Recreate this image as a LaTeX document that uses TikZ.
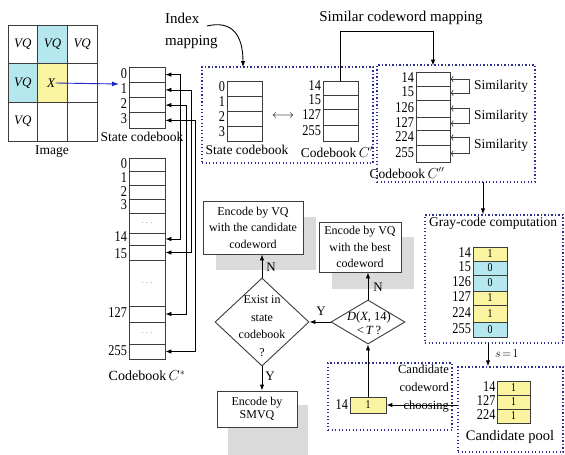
\documentclass[tikz,border=0pt]{standalone}
\usepackage{fontspec}
\setmainfont{Liberation Serif}
\newfontfamily\numf{Liberation Serif}[FakeStretch=0.82]
\usetikzlibrary{arrows.meta,calc,shapes.geometric}
\definecolor{cyanf}{RGB}{180,232,238}
\definecolor{yelf}{RGB}{250,244,160}
\definecolor{dotc}{RGB}{45,45,150}
\definecolor{shad}{RGB}{218,218,218}
\definecolor{ln}{RGB}{60,60,60}
\newcommand\mydots{{\color{black!40}$\cdots$}}
\tikzset{
  fsl/.style 2 args={font=\fontsize{#1}{#2}\selectfont},
  num/.style={font=\fontsize{15}{15}\numf, inner sep=0pt, anchor=east},
  row/.style={draw=ln, line width=0.8pt, inner sep=0pt, minimum width=36pt},
  thk/.style={draw=ln, line width=1.7pt},
  imgcell/.style={draw=ln, line width=0.8pt, minimum width=29.67pt, minimum height=38.67pt, inner sep=0pt, font=\fontsize{13}{13}\selectfont\itshape},
  dotbox/.style={draw=dotc, line width=1.4pt, dash pattern=on 1.2pt off 2.3pt, inner sep=0pt},
  proc/.style={draw=ln, line width=0.9pt, fill=white, align=center, inner sep=0pt},
  dia/.style={diamond, draw=ln, line width=0.9pt, inner sep=0pt, fill=white},
  arr/.style={-{Latex[length=6pt,width=4.5pt]}, line width=0.9pt, draw=black},
  barr/.style={{Latex[length=6pt,width=4.5pt]}-{Latex[length=6pt,width=4.5pt]}, line width=0.8pt},
  sim/.style={{To[length=3pt]}-{To[length=3pt]}, draw=ln, line width=0.6pt},
  yn/.style={fsl={13}{13}, inner sep=0pt},
}
\begin{document}
\begin{tikzpicture}[x=1pt,y=-1pt]
\path[fill=white] (0,0) rectangle (565,455);
\useasboundingbox (0,0) rectangle (565,455);

% ---------- image grid ----------
\node[imgcell] (g00) at (22.83,44.33) {VQ};
\node[imgcell, fill=cyanf] (g01) at (52.5,44.33) {VQ};
\node[imgcell] (g02) at (82.17,44.33) {VQ};
\node[imgcell, fill=cyanf] (g10) at (22.83,83) {VQ};
\node[imgcell, fill=yelf] (g11) at (52.5,83) {};
\node[imgcell] (g12) at (82.17,83) {};
\node[imgcell] (g20) at (22.83,121.67) {VQ};
\node[imgcell] (g21) at (52.5,121.67) {};
\node[imgcell] (g22) at (82.17,121.67) {};
\node[font=\fontsize{13}{13}\selectfont\itshape, inner sep=0.5pt] (xl) at (51,83) {X};
\node[fsl={13.5}{13.5}] (imglbl) at (52,152) {Image};
\coordinate (tipA) at (119,84);
\draw[-{Latex[length=7pt,width=5pt]}, draw={rgb,255:red,30;green,40;blue,200}, line width=0.9pt] (xl.east) -- (tipA);

% ---------- left state codebook ----------
\foreach \n/\y in {0/74.6, 1/89.9, 2/105.1, 3/120.4}{
  \node[row, minimum height=15.25pt] (s\n) at (147,\y) {};
  \node[num] (ls\n) at ($(s\n.west)+(-1.5,-1.5)$) {\n};
}
\node[fsl={13.5}{13.5}] (sclbl) at (142,137) {State codebook};

% ---------- left codebook ----------
\foreach \n/\y/\h/\o in {0/164.9/13.75/-1, 1/178.6/13.75/-1, 2/192.4/13.75/-1, 3/206.1/13.75/-1, 14/239/12/-2.5, 15/252.5/15/0.8, 127/314/16/-1, 255/351.5/15/-1}{
  \node[row, minimum height=\h pt] (c\n) at (147,\y) {};
  \node[num] (lc\n) at ($(c\n.west)+(-1.5,\o)$) {\n};
}
\foreach \n/\y/\h in {d1/223/20, d2/283/46, d3/333/22}{
  \node[row, minimum height=\h pt] (c\n) at (147,\y) {\mydots};
}
\node[fsl={14}{14}] (cblbl) at (147,376) {Codebook$\,C^{*}$};

\draw[barr] (s0.east) -- ++(15,0) |- (c14.east);
\draw[barr] (s1.east) -- ++(26,0) |- (c15.east);
\draw[barr] (s2.east) -- ++(21,0) |- (c127.east);
\draw[barr] (s3.east) -- ++(30,0) |- (c255.east);

% ---------- index mapping ----------
\node[fsl={15}{22}, align=left, anchor=west, inner sep=0pt] (imap) at (165,31) {Index\\mapping};
\node[dotbox, minimum width=171pt, minimum height=96pt] (mbox) at (287.5,115) {};
\coordinate (ia) at (207,26);
\coordinate (ib) at (243,67);
\draw[arr] (ia) .. controls (232,20) and (243,35) .. (ib);

\foreach \n/\y in {0/88.5, 1/103.5, 2/118.5, 3/133.5}{
  \node[row, minimum width=35pt, minimum height=15pt] (m\n) at (244.5,\y) {};
  \node[num] (lm\n) at ($(m\n.west)+(-1.5,-1.5)$) {\n};
}
\node[fsl={13.5}{13.5}] (mslbl) at (247,150) {State codebook};
\node[fsl={12}{12}] (lr) at (283,116) {$\longleftrightarrow$};

\foreach \n/\y/\h in {14/88/14, 15/102/14, 127/117/16, 255/133/16}{
  \node[row, minimum width=35pt, minimum height=\h pt] (p\n) at (340.5,\y) {};
  \node[num] (lp\n) at ($(p\n.west)+(-1.5,-2)$) {\n};
}
\draw[thk] (p15.south west) -- (p15.south east);
\draw[thk] (p127.south west) -- (p127.south east);
\node[fsl={13.5}{13.5}] (cplbl) at (337,152) {Codebook$\,C'$};

% ---------- similar codeword mapping ----------
\node[fsl={15}{15}] (scm) at (401,18) {Similar codeword mapping};
\node[dotbox, minimum width=158pt, minimum height=117pt] (rbox) at (456,123.5) {};
\foreach \n/\y/\h in {14/79/14, 15/93/14, 126/108.5/17, 127/123.5/13, 224/137.5/15, 255/153.5/17}{
  \node[row, minimum width=34pt, minimum height=\h pt] (q\n) at (433,\y) {};
  \node[num] (lq\n) at ($(q\n.west)+(-1.5,-1)$) {\n};
}
\draw[thk] (q15.south west) -- (q15.south east);
\draw[thk] (q126.south west) -- (q126.south east);
\node[fsl={13.5}{13.5}] (cpplbl) at (407,173) {Codebook$\,C''$};
\draw[arr, shorten >=6pt] (p14.north) -- ++(0,-49) -| (q14.north);

\draw[sim] (q14.east) -- ++(19,0) |- (q15.east);
\draw[sim] (q126.east) -- ++(19,0) |- (q127.east);
\draw[sim] (q224.east) -- ++(19,0) |- (q255.east);
\node[fsl={13.5}{13.5}, anchor=west, inner sep=0pt] (sim1) at (474,86) {Similarity};
\node[fsl={13.5}{13.5}, anchor=west, inner sep=0pt] (sim2) at (474,116) {Similarity};
\node[fsl={13.5}{13.5}, anchor=west, inner sep=0pt] (sim3) at (474,145.5) {Similarity};

% ---------- gray code ----------
\node[dotbox, minimum width=138pt, minimum height=128pt] (gbox) at (494,279) {};
\coordinate (rg) at (483,182);
\draw[arr] (rg) -- (rg |- gbox.north);
\node[fsl={13.5}{13.5}, anchor=west, inner sep=0pt] (gtitle) at (429,223) {Gray-code computation};
\foreach \n/\y/\h/\c/\v in {14/254/14/yelf/1, 15/268/14/cyanf/0, 126/283/16/cyanf/0, 127/298/14/yelf/1, 224/313.5/17/yelf/1, 255/329.5/15/cyanf/0}{
  \node[row, minimum width=34pt, minimum height=\h pt, fill=\c, font=\fontsize{12}{12}\numf] (gc\n) at (490,\y) {\v};
  \node[num] (lg\n) at ($(gc\n.west)+(-1.5,-1)$) {\n};
}
\draw[thk] (gc15.south west) -- (gc15.south east);
\draw[thk] (gc126.south west) -- (gc126.south east);

% ---------- candidate pool ----------
\node[dotbox, minimum width=105pt, minimum height=85pt] (pbox) at (510.5,409.5) {};
\coordinate (gp) at (488,343);
\draw[arr] (gp) -- (gp |- pbox.north);
\node[fsl={12}{12}, anchor=west, inner sep=0pt] (slbl) at (495,354) {$s\!=\!1$};
\foreach \n/\y in {14/388, 127/402, 224/416}{
  \node[row, minimum width=33pt, minimum height=14pt, fill=yelf, font=\fontsize{12}{12}\numf] (cp\n) at (513.5,\y) {1};
  \node[num] (lcp\n) at ($(cp\n.west)+(-1,-1)$) {\n};
}
\draw[thk] (cp127.south west) -- (cp127.south east);
\node[fsl={14.5}{14.5}] (cplab) at (510,437) {Candidate pool};

% ---------- candidate codeword choosing ----------
\node[dotbox, minimum width=124pt, minimum height=67pt] (chbox) at (390,396.5) {};
\node[row, minimum width=36pt, minimum height=16pt, fill=yelf, font=\fontsize{12}{12}\numf] (sel) at (368,405) {1};
\node[num] (lsel) at ($(sel.west)+(-1.5,0)$) {14};
\node[fsl={12.5}{18}, align=right, anchor=east, inner sep=0pt] (chtxt) at (449,389) {Candidate\\codeword\\choosing};
\draw[arr] (pbox.west |- sel.east) -- (sel.east);

% ---------- shadows ----------
\fill[shad] (216,217) rectangle (316,270);
\fill[shad] (332,237) rectangle (414,289);
\fill[shad] (228,405) rectangle (308,455);

% ---------- process boxes ----------
\node[proc, minimum width=100pt, minimum height=53pt, fsl={12}{16.5}] (box1) at (253,227.5) {Encode by VQ\\with the candidate\\codeword};
\node[proc, minimum width=82pt, minimum height=50pt, fsl={12}{16.5}] (best) at (360,247) {Encode by VQ\\with the best\\codeword};
\node[proc, minimum width=80pt, minimum height=36pt, fsl={12}{13.5}] (smvq) at (257,409) {Encode by\\SMVQ};

% ---------- diamonds ----------
\node[dia, minimum width=74pt, minimum height=44pt] (dD) at (368,322) {};
\node[fsl={12.5}{13.5}, align=center, inner sep=0pt] (dDt) at (369,323) {\textit{D}(\textit{X}, 14)\\<\,\textit{T}\,?};
\node[dia, minimum width=94pt, minimum height=88pt] (dE) at (262,322) {};
\node[fsl={12}{17.5}, align=center, inner sep=0pt] (dEt) at (262,326) {Exist in\\state\\codebook\\?};

\draw[arr] (sel.north) -- (dD.south);
\draw[arr] (dD.west) -- (dE.east);
\node[yn] (yl1) at (321,311) {Y};
\draw[arr] (dD.north) -- (dD.north |- best.south);
\node[yn] (nl1) at (378,287) {N};
\draw[arr] (dE.north) -- (dE.north |- box1.south);
\node[yn] (nl2) at (271,267) {N};
\draw[arr] (dE.south) -- (dE.south |- smvq.north);
\node[yn] (yl2) at (270,376) {Y};
\end{tikzpicture}
\end{document}
